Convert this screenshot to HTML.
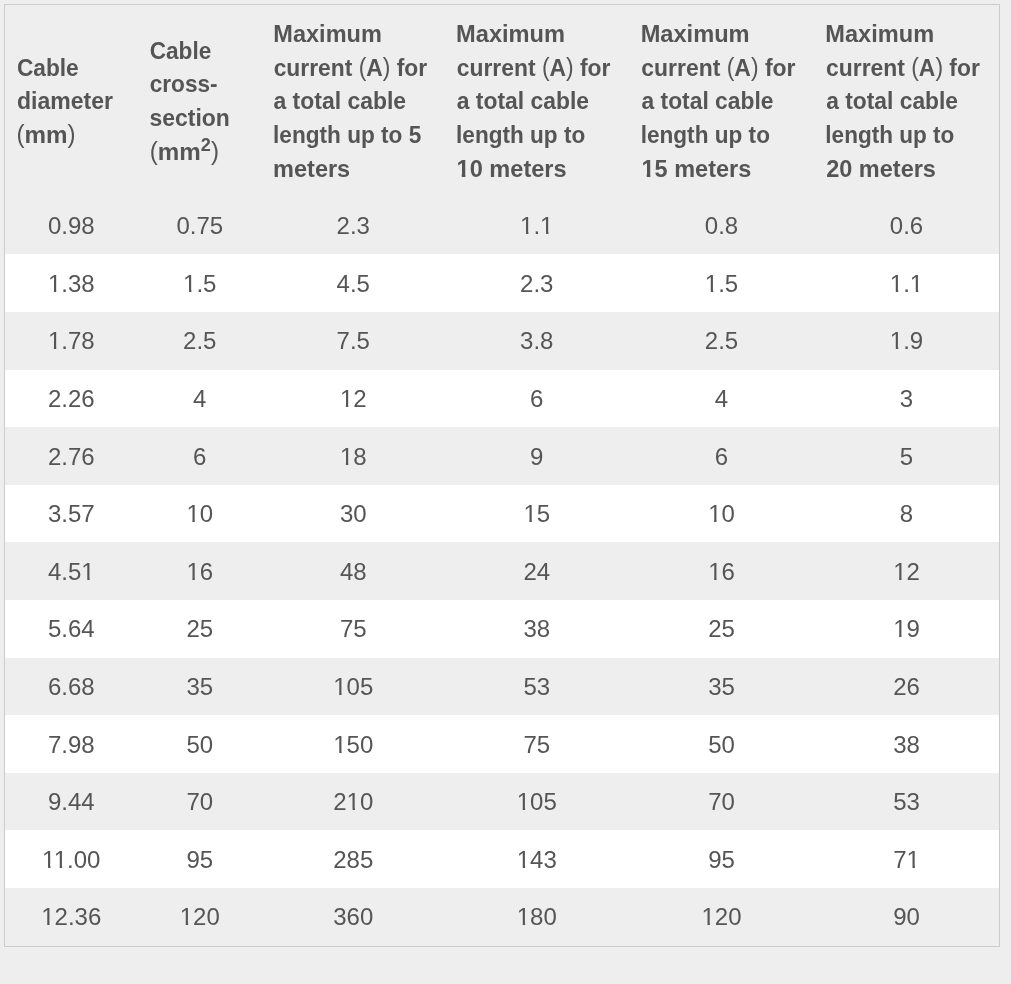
<!DOCTYPE html><html><head><meta charset="utf-8"><style>
*{margin:0;padding:0;box-sizing:border-box}
html,body{width:1011px;height:984px;background:#eeeeee;overflow:hidden}
body{font-family:"Liberation Sans",sans-serif;color:#555555;position:relative}
#t{position:absolute;left:4px;top:4px;width:996px;height:943px;border:1px solid #cccccc;background:#eeeeee}
.w{position:absolute;left:5px;width:994px;background:#ffffff}
#tx{position:absolute;left:0;top:0;width:1011px;height:984px;will-change:transform}
.l{position:absolute;left:0;height:30px;font-weight:bold;font-size:24px;line-height:30px;white-space:nowrap;transform-origin:0 0}
.d{position:absolute;height:30px;text-align:center;font-size:24px;line-height:30px;white-space:nowrap}
.o{clip-path:polygon(0 0,100% 0,100% 20px,8.4px 20px,8.4px 100%,6px 100%,6px 20px,0 20px)}
.ob{clip-path:polygon(0 0,100% 0,100% 19px,9px 19px,9px 100%,5.3px 100%,5.3px 19px,0 19px)}
.p{font-weight:normal;display:inline-block;transform:scaleY(1.09);transform-origin:50% 28px}
sup{font-size:18px;line-height:0;vertical-align:baseline;position:relative;top:-9px}
</style></head><body><div id="t"></div>
<div class="w" style="top:254px;height:58px"></div>
<div class="w" style="top:370px;height:57px"></div>
<div class="w" style="top:485px;height:57px"></div>
<div class="w" style="top:600px;height:58px"></div>
<div class="w" style="top:715px;height:58px"></div>
<div class="w" style="top:830px;height:58px"></div>
<div id="tx">
<div class="l" style="top:53px;transform:translateX(16.95px) scaleX(0.9454)">Cable</div>
<div class="l" style="top:86px;transform:translateX(16.94px) scaleX(0.9592)">diameter</div>
<div class="l" style="top:120px;transform:translateX(16.51px) scaleX(1.0077)"><span class="p">(</span>mm<span class="p">)</span></div>
<div class="l" style="top:36px;transform:translateX(149.66px) scaleX(0.9438)">Cable</div>
<div class="l" style="top:69px;transform:translateX(149.68px) scaleX(0.9426)">cross-</div>
<div class="l" style="top:103px;transform:translateX(149.55px) scaleX(0.9558)">section</div>
<div class="l" style="top:137px;transform:translateX(149.81px) scaleX(1.0065)"><span class="p">(</span>mm<sup>2</sup><span class="p">)</span></div>
<div class="l" style="top:19px;transform:translateX(273.37px) scaleX(0.9794)">Maximum</div>
<div class="l" style="top:53px;transform:translateX(273.67px) scaleX(0.9512)">current <span class="p">(</span>A<span class="p">)</span> for</div>
<div class="l" style="top:86px;transform:translateX(273.49px) scaleX(0.9558)">a total cable</div>
<div class="l" style="top:120px;transform:translateX(273.06px) scaleX(0.9421)">length up to 5</div>
<div class="l" style="top:154px;transform:translateX(273.07px) scaleX(0.9798)">meters</div>
<div class="l" style="top:19px;transform:translateX(456.07px) scaleX(0.9841)">Maximum</div>
<div class="l" style="top:53px;transform:translateX(456.77px) scaleX(0.9524)">current <span class="p">(</span>A<span class="p">)</span> for</div>
<div class="l" style="top:86px;transform:translateX(456.69px) scaleX(0.9536)">a total cable</div>
<div class="l" style="top:120px;transform:translateX(456.06px) scaleX(0.9409)">length up to</div>
<div class="l" style="top:154px;transform:translateX(456.54px) scaleX(0.9824)"><span class="ob">1</span>0 meters</div>
<div class="l" style="top:19px;transform:translateX(640.67px) scaleX(0.9841)">Maximum</div>
<div class="l" style="top:53px;transform:translateX(641.36px) scaleX(0.9549)">current <span class="p">(</span>A<span class="p">)</span> for</div>
<div class="l" style="top:86px;transform:translateX(641.49px) scaleX(0.9514)">a total cable</div>
<div class="l" style="top:120px;transform:translateX(640.66px) scaleX(0.9416)">length up to</div>
<div class="l" style="top:154px;transform:translateX(641.54px) scaleX(0.9787)"><span class="ob">1</span>5 meters</div>
<div class="l" style="top:19px;transform:translateX(825.37px) scaleX(0.9822)">Maximum</div>
<div class="l" style="top:53px;transform:translateX(826.07px) scaleX(0.9530)">current <span class="p">(</span>A<span class="p">)</span> for</div>
<div class="l" style="top:86px;transform:translateX(826.19px) scaleX(0.9506)">a total cable</div>
<div class="l" style="top:120px;transform:translateX(825.36px) scaleX(0.9394)">length up to</div>
<div class="l" style="top:154px;transform:translateX(826.13px) scaleX(0.9797)">20 meters</div>
<div class="d" style="left:5px;width:132.5px;top:211px">0.98</div>
<div class="d" style="left:137.5px;width:124.5px;top:211px">0.75</div>
<div class="d" style="left:262px;width:182.5px;top:211px">2.3</div>
<div class="d" style="left:444.5px;width:184.5px;top:211px"><span class="o">1</span>.<span class="o">1</span></div>
<div class="d" style="left:629px;width:185px;top:211px">0.8</div>
<div class="d" style="left:814px;width:185px;top:211px">0.6</div>
<div class="d" style="left:5px;width:132.5px;top:269px"><span class="o">1</span>.38</div>
<div class="d" style="left:137.5px;width:124.5px;top:269px"><span class="o">1</span>.5</div>
<div class="d" style="left:262px;width:182.5px;top:269px">4.5</div>
<div class="d" style="left:444.5px;width:184.5px;top:269px">2.3</div>
<div class="d" style="left:629px;width:185px;top:269px"><span class="o">1</span>.5</div>
<div class="d" style="left:814px;width:185px;top:269px"><span class="o">1</span>.<span class="o">1</span></div>
<div class="d" style="left:5px;width:132.5px;top:326px"><span class="o">1</span>.78</div>
<div class="d" style="left:137.5px;width:124.5px;top:326px">2.5</div>
<div class="d" style="left:262px;width:182.5px;top:326px">7.5</div>
<div class="d" style="left:444.5px;width:184.5px;top:326px">3.8</div>
<div class="d" style="left:629px;width:185px;top:326px">2.5</div>
<div class="d" style="left:814px;width:185px;top:326px"><span class="o">1</span>.9</div>
<div class="d" style="left:5px;width:132.5px;top:384px">2.26</div>
<div class="d" style="left:137.5px;width:124.5px;top:384px">4</div>
<div class="d" style="left:262px;width:182.5px;top:384px"><span class="o">1</span>2</div>
<div class="d" style="left:444.5px;width:184.5px;top:384px">6</div>
<div class="d" style="left:629px;width:185px;top:384px">4</div>
<div class="d" style="left:814px;width:185px;top:384px">3</div>
<div class="d" style="left:5px;width:132.5px;top:442px">2.76</div>
<div class="d" style="left:137.5px;width:124.5px;top:442px">6</div>
<div class="d" style="left:262px;width:182.5px;top:442px"><span class="o">1</span>8</div>
<div class="d" style="left:444.5px;width:184.5px;top:442px">9</div>
<div class="d" style="left:629px;width:185px;top:442px">6</div>
<div class="d" style="left:814px;width:185px;top:442px">5</div>
<div class="d" style="left:5px;width:132.5px;top:499px">3.57</div>
<div class="d" style="left:137.5px;width:124.5px;top:499px"><span class="o">1</span>0</div>
<div class="d" style="left:262px;width:182.5px;top:499px">30</div>
<div class="d" style="left:444.5px;width:184.5px;top:499px"><span class="o">1</span>5</div>
<div class="d" style="left:629px;width:185px;top:499px"><span class="o">1</span>0</div>
<div class="d" style="left:814px;width:185px;top:499px">8</div>
<div class="d" style="left:5px;width:132.5px;top:557px">4.5<span class="o">1</span></div>
<div class="d" style="left:137.5px;width:124.5px;top:557px"><span class="o">1</span>6</div>
<div class="d" style="left:262px;width:182.5px;top:557px">48</div>
<div class="d" style="left:444.5px;width:184.5px;top:557px">24</div>
<div class="d" style="left:629px;width:185px;top:557px"><span class="o">1</span>6</div>
<div class="d" style="left:814px;width:185px;top:557px"><span class="o">1</span>2</div>
<div class="d" style="left:5px;width:132.5px;top:614px">5.64</div>
<div class="d" style="left:137.5px;width:124.5px;top:614px">25</div>
<div class="d" style="left:262px;width:182.5px;top:614px">75</div>
<div class="d" style="left:444.5px;width:184.5px;top:614px">38</div>
<div class="d" style="left:629px;width:185px;top:614px">25</div>
<div class="d" style="left:814px;width:185px;top:614px"><span class="o">1</span>9</div>
<div class="d" style="left:5px;width:132.5px;top:672px">6.68</div>
<div class="d" style="left:137.5px;width:124.5px;top:672px">35</div>
<div class="d" style="left:262px;width:182.5px;top:672px"><span class="o">1</span>05</div>
<div class="d" style="left:444.5px;width:184.5px;top:672px">53</div>
<div class="d" style="left:629px;width:185px;top:672px">35</div>
<div class="d" style="left:814px;width:185px;top:672px">26</div>
<div class="d" style="left:5px;width:132.5px;top:730px">7.98</div>
<div class="d" style="left:137.5px;width:124.5px;top:730px">50</div>
<div class="d" style="left:262px;width:182.5px;top:730px"><span class="o">1</span>50</div>
<div class="d" style="left:444.5px;width:184.5px;top:730px">75</div>
<div class="d" style="left:629px;width:185px;top:730px">50</div>
<div class="d" style="left:814px;width:185px;top:730px">38</div>
<div class="d" style="left:5px;width:132.5px;top:787px">9.44</div>
<div class="d" style="left:137.5px;width:124.5px;top:787px">70</div>
<div class="d" style="left:262px;width:182.5px;top:787px">2<span class="o">1</span>0</div>
<div class="d" style="left:444.5px;width:184.5px;top:787px"><span class="o">1</span>05</div>
<div class="d" style="left:629px;width:185px;top:787px">70</div>
<div class="d" style="left:814px;width:185px;top:787px">53</div>
<div class="d" style="left:5px;width:132.5px;top:845px"><span class="o">1</span><span class="o">1</span>.00</div>
<div class="d" style="left:137.5px;width:124.5px;top:845px">95</div>
<div class="d" style="left:262px;width:182.5px;top:845px">285</div>
<div class="d" style="left:444.5px;width:184.5px;top:845px"><span class="o">1</span>43</div>
<div class="d" style="left:629px;width:185px;top:845px">95</div>
<div class="d" style="left:814px;width:185px;top:845px">7<span class="o">1</span></div>
<div class="d" style="left:5px;width:132.5px;top:902px"><span class="o">1</span>2.36</div>
<div class="d" style="left:137.5px;width:124.5px;top:902px"><span class="o">1</span>20</div>
<div class="d" style="left:262px;width:182.5px;top:902px">360</div>
<div class="d" style="left:444.5px;width:184.5px;top:902px"><span class="o">1</span>80</div>
<div class="d" style="left:629px;width:185px;top:902px"><span class="o">1</span>20</div>
<div class="d" style="left:814px;width:185px;top:902px">90</div>
</div></body></html>
